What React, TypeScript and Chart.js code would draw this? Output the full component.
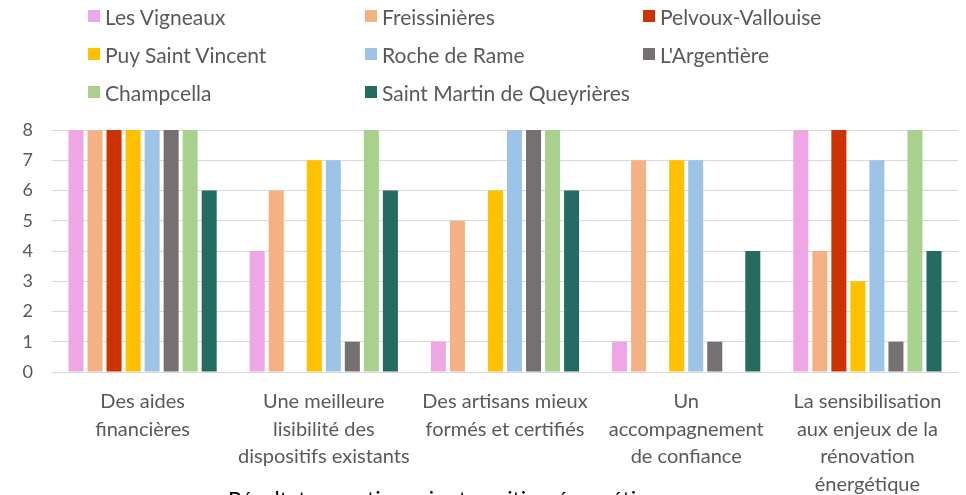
import React, { useEffect, useRef } from "react";
import { Chart, registerables } from "chart.js";

Chart.register(...registerables);

const categories: string[][] = [
  ["Des aides", "financières"],
  ["Une meilleure", "lisibilité des", "dispositifs existants"],
  ["Des artisans mieux", "formés et certifiés"],
  ["Un", "accompagnement", "de confiance"],
  ["La sensibilisation", "aux enjeux de la", "rénovation", "énergétique"],
];

const seriesNames = [
  "Les Vigneaux",
  "Freissinières",
  "Pelvoux-Vallouise",
  "Puy Saint Vincent",
  "Roche de Rame",
  "L'Argentière",
  "Champcella",
  "Saint Martin de Queyrières",
];

const seriesColors = [
  "#EEA6E4",
  "#F4B183",
  "#CC3300",
  "#FFC000",
  "#9DC3E6",
  "#767171",
  "#A9D18E",
  "#246B61",
];

const lesVigneaux = [8, 4, 1, 1, 8];
const freissinieres = [8, 6, 5, 7, 4];
const pelvouxVallouise = [8, 0, 0, 0, 8];
const puySaintVincent = [8, 7, 6, 7, 3];
const rocheDeRame = [8, 7, 8, 7, 7];
const lArgentiere = [8, 1, 8, 1, 1];
const champcella = [8, 8, 8, 0, 8];
const saintMartin = [6, 6, 6, 4, 4];

const seriesValues = [
  lesVigneaux,
  freissinieres,
  pelvouxVallouise,
  puySaintVincent,
  rocheDeRame,
  lArgentiere,
  champcella,
  saintMartin,
];

const yTicks = [0, 1, 2, 3, 4, 5, 6, 7, 8];

const caption = "Résultats questionnaire transition énergétique";

const FONT = "'Lato', 'Liberation Sans', sans-serif";
const TEXT = "#595959";

export default function App() {
  const ref = useRef<HTMLCanvasElement | null>(null);

  useEffect(() => {
    if (!ref.current) return;
    const chart = new Chart(ref.current, {
      type: "bar",
      data: {
        labels: categories,
        datasets: seriesNames.map((name, i) => ({
          label: name,
          data: seriesValues[i],
          backgroundColor: seriesColors[i],
          borderWidth: 0,
          categoryPercentage: 0.84,
          barPercentage: 0.79,
        })),
      },
      options: {
        responsive: false,
        animation: false,
        devicePixelRatio: 1,
        layout: { padding: { left: 0, right: 8, top: 130, bottom: 0 } },
        plugins: {
          legend: { display: false },
          title: { display: false },
          tooltip: { enabled: false },
        },
        scales: {
          x: {
            grid: { display: false },
            border: { display: false },
            ticks: {
              color: TEXT,
              font: { family: FONT, size: 20, lineHeight: 1.375 },
              maxRotation: 0,
              minRotation: 0,
              autoSkip: false,
              padding: 8,
            },
            afterFit: (s: any) => {
              s.height = 123;
            },
          },
          y: {
            min: 0,
            max: 8,
            afterBuildTicks: (s: any) => {
              s.ticks = yTicks.map((v) => ({ value: v }));
            },
            grid: { color: "#D9D9D9", lineWidth: 1, drawTicks: false },
            border: { display: false },
            ticks: {
              color: TEXT,
              font: { family: FONT, size: 18 },
              padding: 19,
            },
            afterFit: (s: any) => {
              s.width = 52;
            },
          },
        },
      },
    });
    return () => chart.destroy();
  }, []);

  const colX = [88, 365, 643];
  const rowY = [16, 54, 92];

  return (
    <div
      style={{
        position: "absolute",
        left: 0,
        top: 0,
        width: 966,
        height: 495,
        overflow: "hidden",
        background: "#fff",
      }}
    >
      <canvas ref={ref} width={966} height={495} style={{ display: "block" }} />
      {seriesNames.map((name, i) => (
        <div
          key={name}
          style={{
            position: "absolute",
            left: colX[i % 3],
            top: rowY[Math.floor(i / 3)] - 13,
            height: 26,
            display: "flex",
            alignItems: "center",
            fontFamily: FONT,
            fontSize: 21,
            color: TEXT,
            whiteSpace: "nowrap",
          }}
        >
          <span
            style={{
              display: "inline-block",
              width: 12,
              height: 12,
              background: seriesColors[i],
              marginRight: 5,
            }}
          />
          {name}
        </div>
      ))}
      <div
        style={{
          position: "absolute",
          left: 228,
          top: 486,
          fontFamily: FONT,
          fontSize: 22,
          lineHeight: 1.2,
          color: "#000",
          whiteSpace: "nowrap",
        }}
      >
        {caption}
      </div>
    </div>
  );
}
